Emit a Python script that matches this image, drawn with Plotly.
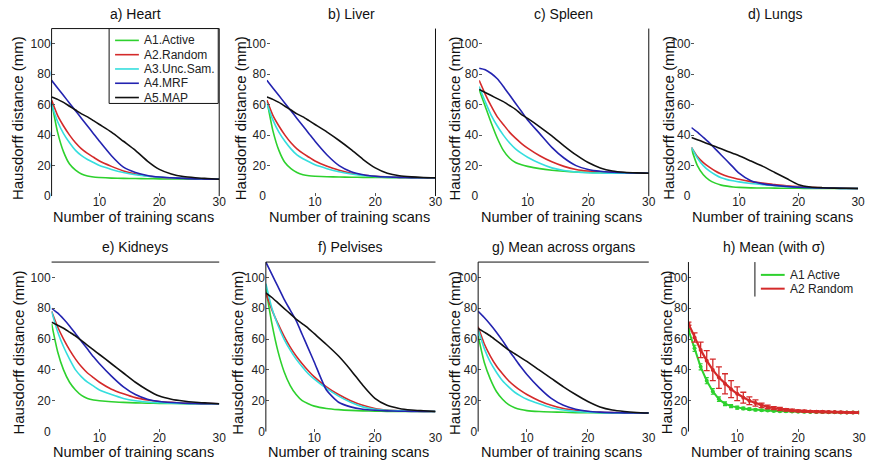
import plotly.graph_objects as go

# ---------------- data ----------------
X = [2, 3, 4, 5, 6, 7, 8, 9, 10, 12, 14, 16, 18, 20, 22, 24, 26, 28, 30]

HEART_A1 = [62, 42, 29, 21, 17, 14.5, 13.2, 12.5, 12.2, 11.8, 11.6, 11.5, 11.4, 11.3, 11.2, 11.2, 11.1, 11.1, 11]
HEART_A2 = [63, 53, 46, 40, 35, 31, 28, 25.5, 23, 19.5, 16.5, 14.5, 13.2, 12.4, 12, 11.7, 11.4, 11.2, 11]
HEART_A3 = [60, 49, 41, 35, 30, 26.5, 24, 22, 20, 17.5, 15.5, 14, 13, 12.4, 12, 11.7, 11.4, 11.2, 11]
HEART_A4 = [76, 71, 66, 61, 56, 51, 46, 41, 36, 26.5, 19, 15.5, 13.5, 12.5, 12, 11.6, 11.3, 11.1, 11]
HEART_A5 = [65, 63.5, 61.5, 59, 56.5, 54, 52, 49.5, 47, 42, 36, 30, 23, 17.5, 14.5, 12.8, 12, 11.5, 11]

LIVER_A1 = [63, 43, 30, 22, 18, 15.5, 14, 13.3, 13, 12.7, 12.5, 12.4, 12.3, 12.2, 12.1, 12.1, 12, 12, 12]
LIVER_A2 = [63, 53, 46, 40, 35, 31, 28, 25.5, 23, 19.5, 17, 15, 13.8, 13, 12.6, 12.3, 12.1, 12, 12]
LIVER_A3 = [61, 50, 42, 36, 31, 27, 24.5, 22.5, 20.5, 18, 16, 14.5, 13.5, 12.8, 12.4, 12.2, 12.1, 12, 12]
LIVER_A4 = [76, 71, 66, 61, 56, 51, 46, 41, 36, 27, 20, 16, 14, 13, 12.5, 12.3, 12.1, 12, 12]
LIVER_A5 = [65, 63.5, 61.5, 59, 56.5, 54, 52, 49.5, 47, 42, 36.5, 30.5, 24, 18.5, 15, 13.3, 12.6, 12.2, 12]

SPLEEN_A1 = [70, 59, 48, 38, 30, 25, 22, 20.5, 19.5, 18, 17, 16.3, 15.8, 15.5, 15.3, 15.2, 15.1, 15, 15]
SPLEEN_A2 = [76, 67, 59, 52, 47, 42, 38, 34.5, 31.5, 26.5, 22.5, 19.5, 17.5, 16.5, 16, 15.6, 15.3, 15.1, 15]
SPLEEN_A3 = [72, 62, 53, 46, 40, 35, 31, 28, 25.5, 21.5, 18.5, 16.8, 15.8, 15.3, 15.1, 15, 15, 15, 15]
SPLEEN_A4 = [84, 83, 80.5, 77, 72, 66.5, 61, 55.5, 50, 41, 32, 25, 20, 17.5, 16.3, 15.7, 15.3, 15.1, 15]
SPLEEN_A5 = [70, 68, 66, 64, 62, 59.5, 57, 53.5, 51, 45.5, 39.5, 33, 27, 22, 18.5, 16.5, 15.6, 15.2, 15]

LUNGS_A1 = [31, 20, 14, 10.5, 8.5, 7.2, 6.5, 6, 5.7, 5.4, 5.3, 5.2, 5.1, 5.1, 5, 5, 5, 5, 5]
LUNGS_A2 = [32, 26, 22, 19, 16.5, 14.5, 13, 12, 11, 9.5, 8.5, 7.5, 6.8, 6.2, 5.8, 5.5, 5.3, 5.1, 5]
LUNGS_A3 = [32, 25, 20, 16.5, 14, 12, 10.8, 10, 9.3, 8.3, 7.5, 6.8, 6.2, 5.8, 5.5, 5.3, 5.1, 5, 5]
LUNGS_A4 = [45, 42, 38.5, 35, 31, 27, 23, 19, 15, 10, 8, 7, 6.3, 5.8, 5.5, 5.3, 5.1, 5, 5]
LUNGS_A5 = [38.5, 37, 35.5, 34, 32.5, 31, 29.5, 28, 26.5, 23, 19.5, 15.5, 11.5, 7.5, 6, 5.5, 5.2, 5.1, 5]

KIDNEYS_A1 = [70, 52, 40, 32, 27, 23.5, 21.5, 20.5, 20, 19.3, 18.9, 18.6, 18.4, 18.3, 18.2, 18.1, 18, 18, 18]
KIDNEYS_A2 = [78, 68, 60, 53, 47, 42, 38, 35, 32, 27.5, 24.5, 22, 20.5, 19.5, 18.9, 18.5, 18.2, 18.1, 18]
KIDNEYS_A3 = [78, 65, 55, 47, 40, 35.5, 32, 29.5, 27, 24, 21.5, 20, 19.2, 18.7, 18.4, 18.2, 18.1, 18, 18]
KIDNEYS_A4 = [80, 77, 73, 68.5, 63.5, 58.5, 53.5, 48.5, 44, 36, 29, 24, 21, 19.5, 18.8, 18.4, 18.2, 18.1, 18]
KIDNEYS_A5 = [71, 69, 67, 64.5, 62, 59, 56, 53, 50, 44, 38, 32, 27, 23, 21, 19.8, 19, 18.5, 18]

PELVIS_A1 = [93, 70, 52, 39, 30, 24, 20, 18, 16.5, 15, 14.2, 13.7, 13.4, 13.2, 13.1, 13, 13, 13, 13]
PELVIS_A2 = [90, 79, 70, 62, 55, 49, 44, 39.5, 35.5, 29, 24, 20, 17, 15, 14, 13.5, 13.2, 13.1, 13]
PELVIS_A3 = [96, 80, 69, 60, 53, 47, 42, 37.5, 34, 28, 23, 19, 16, 14.5, 13.8, 13.4, 13.2, 13.1, 13]
PELVIS_A4 = [110, 102, 94, 86, 79, 72, 63, 54, 45, 27, 19, 16, 14.5, 13.8, 13.4, 13.2, 13.1, 13, 13]
PELVIS_A5 = [90, 87, 83.5, 80, 76.5, 73, 70, 67, 63.5, 56.5, 49, 40, 30, 21.5, 17, 15, 14, 13.5, 13]

MEAN_A1 = [62, 45, 34, 26, 21, 17.5, 15.5, 14.3, 13.6, 13, 12.7, 12.5, 12.3, 12.2, 12.1, 12, 12, 12, 12]
MEAN_A2 = [68, 57, 49, 42.5, 37.5, 33, 29.5, 26.5, 24, 20, 17, 15, 13.8, 13, 12.5, 12.3, 12.1, 12, 12]
MEAN_A3 = [66, 54, 45, 38.5, 33, 29, 25.5, 23, 21, 18, 15.5, 14, 13, 12.5, 12.2, 12.1, 12, 12, 12]
MEAN_A4 = [78, 74, 69.5, 64.5, 59, 53, 47.5, 42, 37, 28.5, 21.5, 17, 14.5, 13.2, 12.6, 12.3, 12.1, 12, 12]
MEAN_A5 = [67, 64.5, 62, 59, 56, 53, 50.5, 48, 45.5, 40, 34.5, 29, 24, 19.5, 16, 14, 13, 12.4, 12]

XH = list(range(2, 31))
H_ACTIVE = [66, 54, 42, 33, 26, 21, 18, 16.5, 15.5, 15, 14.5, 14.1, 13.8, 13.6, 13.4, 13.2, 13.1, 13, 12.9,
            12.8, 12.7, 12.6, 12.6, 12.5, 12.5, 12.4, 12.4, 12.3, 12.3]
H_ACTIVE_SD = [1, 2, 2, 2, 1.8, 1.5, 1.2, 1, 1, 0.8, 0.8, 0.7, 0.6, 0.6, 0.5, 0.5, 0.5, 0.5, 0.5,
               0.5, 0.5, 0.5, 0.5, 0.5, 0.5, 0.5, 0.5, 0.5, 0.5]
H_RANDOM = [70, 61, 53, 46, 40, 35, 31, 27.5, 24.5, 22, 20, 18.5, 17, 16, 15.2, 14.6, 14.1, 13.7, 13.4,
            13.2, 13, 12.9, 12.8, 12.7, 12.6, 12.5, 12.4, 12.3, 12.3]
H_RANDOM_SD = [1, 3, 5, 6.5, 7, 7, 6.5, 5.5, 4.5, 3.5, 2.5, 2, 1.5, 1.2, 1, 1, 0.8, 0.8, 0.7,
               0.7, 0.6, 0.6, 0.6, 0.5, 0.5, 0.5, 0.5, 0.5, 0.5]

METHODS = ["A1.Active", "A2.Random", "A3.Unc.Sam.", "A4.MRF", "A5.MAP"]
COLORS = ["#2ed12e", "#d42a2a", "#35dede", "#2323b0", "#111111"]
H_METHODS = ["A1 Active", "A2 Random"]
H_COLORS = ["#2ed12e", "#d42a2a"]

PANELS = [
    ("a) Heart", [HEART_A1, HEART_A2, HEART_A3, HEART_A4, HEART_A5]),
    ("b) Liver", [LIVER_A1, LIVER_A2, LIVER_A3, LIVER_A4, LIVER_A5]),
    ("c) Spleen", [SPLEEN_A1, SPLEEN_A2, SPLEEN_A3, SPLEEN_A4, SPLEEN_A5]),
    ("d) Lungs", [LUNGS_A1, LUNGS_A2, LUNGS_A3, LUNGS_A4, LUNGS_A5]),
    ("e) Kidneys", [KIDNEYS_A1, KIDNEYS_A2, KIDNEYS_A3, KIDNEYS_A4, KIDNEYS_A5]),
    ("f) Pelvises", [PELVIS_A1, PELVIS_A2, PELVIS_A3, PELVIS_A4, PELVIS_A5]),
    ("g) Mean across organs", [MEAN_A1, MEAN_A2, MEAN_A3, MEAN_A4, MEAN_A5]),
]
H_TITLE = "h) Mean (with σ)"

# ---------------- layout geometry (pixels) ----------------
W, H = 875, 474
COLS = [(52, 221), (269, 439), (483, 654), (697, 865),
        (52, 221), (268, 439), (482, 654), (694, 866)]
ROWS = [(29, 199)] * 4 + [(266, 438)] * 4
FRAMES = [["l", "t", "r"], ["r"], ["r"], [], ["t"], ["l", "t"], ["l", "t"], ["l"]]
YTITLE_X = [17, 242, 458, 674, 19, 240, 458, 672]

FONT = "Liberation Sans, Arial, sans-serif"

def px(x):
    return x / W

def py(y):
    return 1 - y / H

fig = go.Figure()

for i, (title, series) in enumerate(PANELS):
    ax = "" if i == 0 else str(i + 1)
    for name, col, ys in zip(METHODS, COLORS, series):
        fig.add_trace(go.Scatter(
            x=X, y=ys, mode="lines", name=name,
            line=dict(color=col, width=1.6, shape="spline", smoothing=0.6),
            xaxis="x" + ax, yaxis="y" + ax, showlegend=False,
        ))

fig.add_trace(go.Scatter(
    x=XH, y=H_ACTIVE, mode="lines+markers", name=H_METHODS[0],
    line=dict(color=H_COLORS[0], width=2), marker=dict(size=4, color=H_COLORS[0]),
    error_y=dict(type="data", array=H_ACTIVE_SD, color=H_COLORS[0], thickness=1.2, width=2),
    xaxis="x8", yaxis="y8", showlegend=False,
))
fig.add_trace(go.Scatter(
    x=XH, y=H_RANDOM, mode="lines+markers", name=H_METHODS[1],
    line=dict(color=H_COLORS[1], width=2.2), marker=dict(size=4, color=H_COLORS[1]),
    error_y=dict(type="data", array=H_RANDOM_SD, color=H_COLORS[1], thickness=1.3, width=3),
    xaxis="x8", yaxis="y8", showlegend=False,
))

layout = dict(
    width=W, height=H, margin=dict(l=0, r=0, t=0, b=0),
    paper_bgcolor="white", plot_bgcolor="white",
    font=dict(family=FONT, size=12, color="#222"),
    showlegend=False,
)

annotations = []
shapes = []
all_titles = [p[0] for p in PANELS] + [H_TITLE]
for i in range(8):
    ax = "" if i == 0 else str(i + 1)
    x0, x1 = COLS[i]
    y0, y1 = ROWS[i]
    layout["xaxis" + ax] = dict(
        domain=[px(x0), px(x1)], range=[2, 30], anchor="y" + ax,
        tickvals=[10, 20, 30], ticks="inside", ticklen=3, tickcolor="#555",
        showgrid=False, zeroline=False, showline=False, ticklabelstandoff=-3,
        tickfont=dict(size=12, family=FONT, color="#222"),
    )
    layout["yaxis" + ax] = dict(
        domain=[py(y1), py(y0)], range=[0, 110], anchor="x" + ax,
        tickvals=[0, 20, 40, 60, 80, 100], ticks="inside", ticklen=3, tickcolor="#555",
        showgrid=False, zeroline=False, showline=False,
        tickfont=dict(size=12, family=FONT, color="#222"),
    )
    cx = (x0 + x1) / 2
    annotations.append(dict(text=all_titles[i], x=px(cx), y=py(y0 - 15), xref="paper", yref="paper",
                            showarrow=False, font=dict(size=14, family=FONT, color="#111"),
                            xanchor="center", yanchor="middle"))
    annotations.append(dict(text="Number of training scans", x=px(cx - 2), y=py(y1 + 21),
                            xref="paper", yref="paper", showarrow=False,
                            font=dict(size=14.5, family=FONT, color="#111"),
                            xanchor="center", yanchor="middle"))
    annotations.append(dict(text="Hausdorff distance (mm)", x=px(YTITLE_X[i]), y=py((y0 + y1) / 2 + 6),
                            xref="paper", yref="paper", showarrow=False, textangle=-90,
                            font=dict(size=15, family=FONT, color="#111"),
                            xanchor="center", yanchor="middle"))
    dx = "x" + ax + " domain"
    dy = "y" + ax + " domain"
    for side in FRAMES[i]:
        if side == "l":
            shapes.append(dict(type="line", xref=dx, yref=dy, x0=0, x1=0, y0=0, y1=1,
                               line=dict(color="#111", width=1)))
        elif side == "r":
            shapes.append(dict(type="line", xref=dx, yref=dy, x0=1, x1=1, y0=0, y1=1,
                               line=dict(color="#111", width=1)))
        elif side == "t":
            shapes.append(dict(type="line", xref=dx, yref=dy, x0=0, x1=1, y0=1, y1=1,
                               line=dict(color="#111", width=1)))

# ---- legend of panel a (box, sample lines, labels) ----
shapes.append(dict(type="rect", xref="paper", yref="paper", x0=px(110), x1=px(220),
                   y0=py(105), y1=py(29), line=dict(color="#111", width=1), fillcolor="white",
                   layer="above"))
LEG_ROWS = [41, 55.5, 70, 84.5, 99]
for name, col, ry in zip(METHODS, COLORS, LEG_ROWS):
    shapes.append(dict(type="line", xref="paper", yref="paper", x0=px(116), x1=px(140),
                       y0=py(ry), y1=py(ry), line=dict(color=col, width=1.6), layer="above"))
    annotations.append(dict(text=name, x=px(143), y=py(ry), xref="paper", yref="paper",
                            showarrow=False, xanchor="left", yanchor="middle",
                            font=dict(size=12, family=FONT, color="#222")))

# ---- legend of panel h ----
shapes.append(dict(type="line", xref="paper", yref="paper", x0=px(761), x1=px(761),
                   y0=py(301), y1=py(266), line=dict(color="#111", width=1)))
H_LEG_ROWS = [279, 293]
for name, col, ry in zip(H_METHODS, H_COLORS, H_LEG_ROWS):
    shapes.append(dict(type="line", xref="paper", yref="paper", x0=px(767), x1=px(791),
                       y0=py(ry), y1=py(ry), line=dict(color=col, width=2), layer="above"))
    annotations.append(dict(text=name, x=px(794), y=py(ry), xref="paper", yref="paper",
                            showarrow=False, xanchor="left", yanchor="middle",
                            font=dict(size=12, family=FONT, color="#222")))

layout["annotations"] = annotations
layout["shapes"] = shapes
fig.update_layout(**layout)

fig.write_html("out.html", config={"displayModeBar": False},
               post_script="document.body.style.margin='0';document.body.style.padding='0';")
